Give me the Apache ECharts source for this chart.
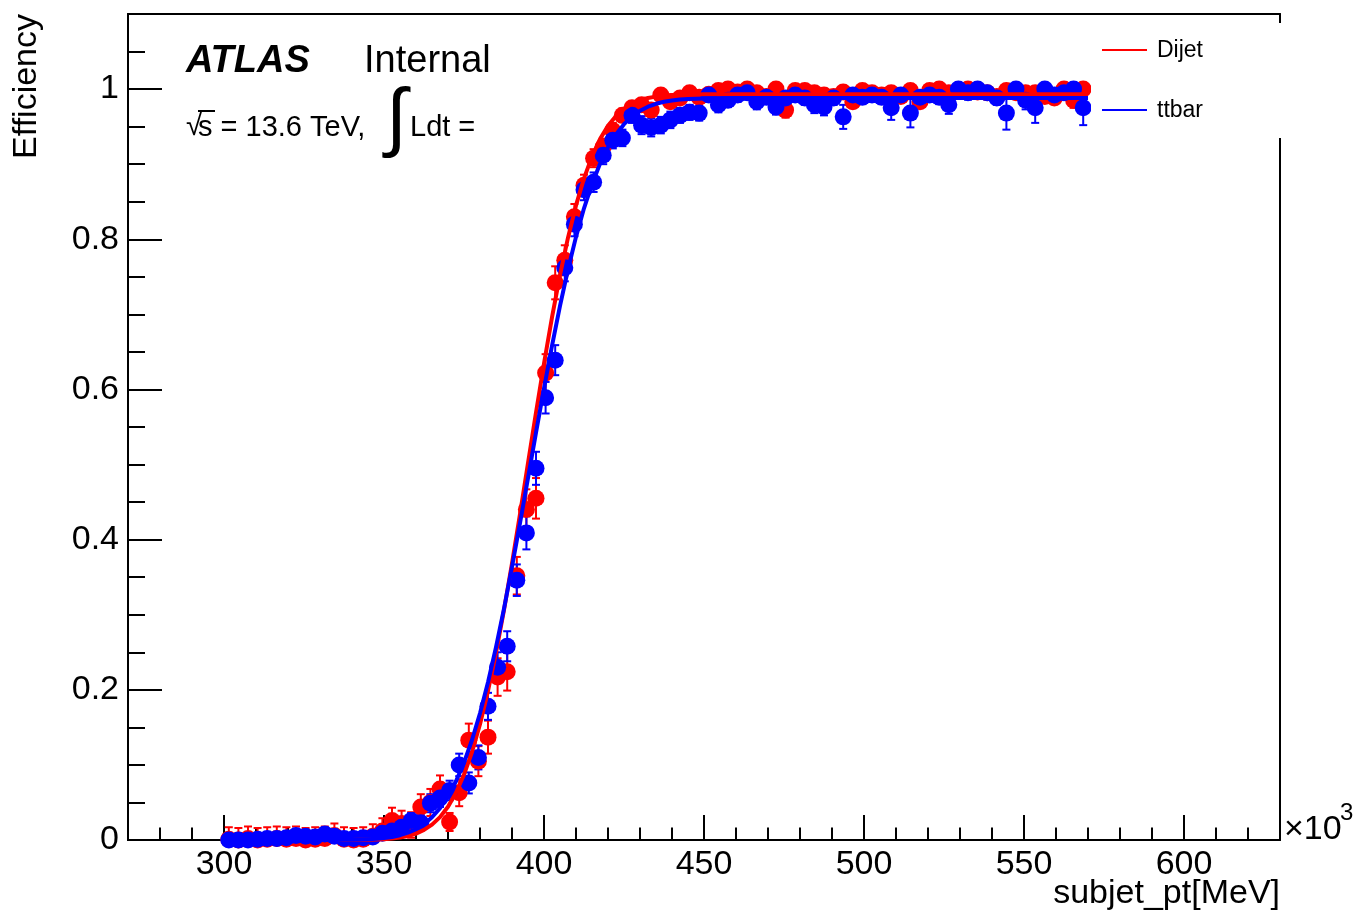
<!DOCTYPE html>
<html><head><meta charset="utf-8">
<script src="https://cdn.jsdelivr.net/npm/echarts@6/dist/echarts.min.js"></script>
<style>html,body{margin:0;padding:0;background:#fff}#c{width:1355px;height:914px}</style>
</head><body><div id="c"></div>
<script>
// bin centres (x 10^3 MeV)
const binCenters = [
 301.5,304.5,307.5,310.5,313.5,316.5,319.5,322.5,325.5,328.5,
 331.5,334.5,337.5,340.5,343.5,346.5,349.5,352.5,355.5,358.5,
 361.5,364.5,367.5,370.5,373.5,376.5,379.5,382.5,385.5,388.5,
 391.5,394.5,397.5,400.5,403.5,406.5,409.5,412.5,415.5,418.5,
 421.5,424.5,427.5,430.5,433.5,436.5,439.5,442.5,445.5,448.5,
 451.5,454.5,457.5,460.5,463.5,466.5,469.5,472.5,475.5,478.5,
 481.5,484.5,487.5,490.5,493.5,496.5,499.5,502.5,505.5,508.5,
 511.5,514.5,517.5,520.5,523.5,526.5,529.5,532.5,535.5,538.5,
 541.5,544.5,547.5,550.5,553.5,556.5,559.5,562.5,565.5,568.5];
const dijetEff = [
 0.001,0,0.002,0,0.001,0.002,0.001,0.002,0,0.001,
 0.002,0.006,0.001,0,0.001,0.005,0.012,0.026,0.022,0.02,
 0.044,0.05,0.068,0.024,0.063,0.133,0.105,0.137,0.217,0.224,
 0.352,0.44,0.455,0.622,0.742,0.772,0.83,0.872,0.908,0.923,
 0.945,0.965,0.975,0.979,0.972,0.992,0.983,0.988,0.995,0.989,
 0.993,0.998,1.0,0.996,1.0,0.995,0.99,1.0,0.972,0.998,
 0.998,0.995,0.992,0.99,0.996,0.983,0.998,0.995,0.992,0.995,
 0.99,0.998,0.983,0.998,1.0,0.995,0.997,1.0,0.996,0.995,
 0.99,0.998,0.995,0.995,0.995,0.99,0.988,1.0,0.985,1.0];
const ttbarEff = [
 0,0,0,0.001,0.002,0.002,0.003,0.006,0.005,0.004,
 0.008,0.005,0.002,0.002,0.003,0.004,0.009,0.012,0.017,0.026,
 0.023,0.049,0.056,0.066,0.1,0.076,0.11,0.178,0.23,0.258,
 0.346,0.409,0.495,0.589,0.639,0.762,0.82,0.866,0.876,0.912,
 0.932,0.935,0.965,0.952,0.949,0.952,0.959,0.965,0.969,0.968,
 0.992,0.979,0.985,0.992,0.995,0.983,0.989,0.976,0.988,0.992,
 0.988,0.979,0.976,0.988,0.963,0.992,0.989,0.992,0.989,0.975,
 0.992,0.968,0.989,0.992,0.989,0.979,1.0,0.995,1.0,0.995,
 0.988,0.968,1.0,0.985,0.975,1.0,0.992,0.995,1.0,0.975];
const dijetErr = [
 0.016,0.016,0.016,0.016,0.016,0.016,0.016,0.016,0.016,0.016,
 0.016,0.016,0.016,0.016,0.016,0.016,0.017,0.017,0.017,0.017,
 0.017,0.018,0.018,0.012,0.018,0.022,0.02,0.022,0.025,0.025,
 0.025,0.027,0.027,0.025,0.022,0.02,0.017,0.014,0.012,0.011,
 0.01,0.009,0.008,0.008,0.008,0.006,0.007,0.007,0.006,0.006,
 0.006,0.006,0.006,0.006,0.006,0.006,0.008,0.006,0.01,0.006,
 0.006,0.006,0.007,0.008,0.006,0.008,0.006,0.006,0.007,0.006,
 0.008,0.006,0.008,0.006,0.006,0.006,0.006,0.006,0.006,0.006,
 0.008,0.006,0.006,0.006,0.006,0.008,0.008,0.006,0.01,0.006];
const ttbarErr = [
 0.006,0.006,0.006,0.006,0.006,0.006,0.006,0.006,0.006,0.006,
 0.006,0.006,0.006,0.006,0.006,0.008,0.008,0.009,0.01,0.01,
 0.01,0.012,0.012,0.013,0.015,0.014,0.016,0.018,0.02,0.02,
 0.021,0.022,0.022,0.021,0.02,0.018,0.016,0.014,0.013,0.012,
 0.011,0.011,0.01,0.012,0.012,0.011,0.011,0.01,0.01,0.01,
 0.009,0.01,0.009,0.009,0.009,0.01,0.009,0.01,0.009,0.009,
 0.009,0.011,0.011,0.009,0.016,0.009,0.009,0.009,0.009,0.016,
 0.009,0.019,0.009,0.009,0.009,0.012,0.009,0.009,0.009,0.009,
 0.009,0.022,0.009,0.012,0.02,0.009,0.009,0.009,0.009,0.023];
// fit curves
const fitX = [300,330,335,337.5,340,342.5,345,347.5,350,352.5,355,357.5,360,362.5,365,367.5,370,372.5,375,377.5,
 380,382.5,385,387.5,390,392.5,395,397.5,400,402.5,405,407.5,410,412.5,415,417.5,420,422.5,425,427.5,
 430,432.5,435,437.5,440,442.5,445,447.5,450,455,460,570];
const dijetFit = [0,0,0,0,0.0001,0.0002,0.0003,0.0006,0.0011,0.0019,0.0032,0.0053,0.0085,0.0134,0.0205,0.0305,0.0444,0.063,0.087,0.1172,
 0.1542,0.1985,0.2493,0.3063,0.3685,0.4342,0.502,0.5693,0.6346,0.696,0.7524,0.8021,0.8451,0.8811,0.9104,0.9334,0.9511,0.9643,0.9738,0.9806,
 0.9851,0.9881,0.99,0.9913,0.992,0.9925,0.9927,0.9929,0.993,0.993,0.993,0.993];
const ttbarFit = [0,0,0.0001,0.0002,0.0003,0.0006,0.001,0.0016,0.0026,0.0041,0.0064,0.0098,0.0145,0.0211,0.0303,0.0424,0.0582,0.0782,0.103,0.1332,
 0.1688,0.21,0.2567,0.308,0.3636,0.4219,0.4818,0.5424,0.6014,0.658,0.7114,0.7598,0.8032,0.8413,0.8734,0.9006,0.9224,0.9396,0.9533,0.9635,
 0.9711,0.9765,0.9804,0.9831,0.9848,0.986,0.9868,0.9873,0.9876,0.9879,0.988,0.988];
// tick labels / tick positions
const xMajorTicks = [300,350,400,450,500,550,600];
const xMinorTicks = [280,290,310,320,330,340,360,370,380,390,410,420,430,440,460,470,480,490,510,520,530,540,560,570,580,590,610,620];
const yMajorTicks = [0,0.2,0.4,0.6,0.8,1];
const yMinorTicks = [0.05,0.1,0.15,0.25,0.3,0.35,0.45,0.5,0.55,0.65,0.7,0.75,0.85,0.9,0.95,1.05];

const FONT = "'Liberation Sans', Arial, Helvetica, sans-serif";
const RED = '#ff0000', BLUE = '#0000ff';

function errData(eff, err){
  return binCenters.map((x,i)=>[x, Math.max(0, eff[i]-err[i]), Math.min(1, eff[i]+err[i])]);
}
function errSeries(eff, err, color){
  return {
    type:'custom', data: errData(eff, err), encode:{x:0, y:[1,2]}, silent:true,
    renderItem(params, api){
      const x = api.value(0), lo = api.value(1), hi = api.value(2);
      const p1 = api.coord([x, lo]), p2 = api.coord([x, hi]);
      const cw = 4, st = {stroke: color, lineWidth: 2, fill:null};
      return {type:'group', children:[
        {type:'line', shape:{x1:p1[0],y1:p1[1],x2:p2[0],y2:p2[1]}, style:st},
        {type:'line', shape:{x1:p1[0]-cw,y1:p1[1],x2:p1[0]+cw,y2:p1[1]}, style:st},
        {type:'line', shape:{x1:p2[0]-cw,y1:p2[1],x2:p2[0]+cw,y2:p2[1]}, style:st}
      ]};
    }
  };
}
function ptSeries(eff, color){
  return {type:'scatter', data: binCenters.map((x,i)=>[x, eff[i]]), symbol:'circle', symbolSize:17,
    itemStyle:{color:color, opacity:1}, silent:true};
}
function fitSeries(name, vals, color){
  return {type:'line', name:name, data: fitX.map((x,i)=>[x, vals[i]]), smooth:false,
    showSymbol:false, lineStyle:{color:color, width:4, join:'round'}, silent:true};
}

function xAx(pos, ticks, len, labels){
  return {type:'value', min:270, max:630, position:pos, gridIndex:0,
    axisLine:{show:true, onZero:false, lineStyle:{color:'#000', width:2}},
    axisTick: ticks ? {show:true, inside:true, length:len, customValues:ticks, lineStyle:{color:'#000', width:2}} : {show:false},
    axisLabel: labels ? {show:true, customValues:labels, color:'#000', fontSize:34, fontFamily:FONT, margin:8} : {show:false},
    splitLine:{show:false}, minorTick:{show:false}};
}
function yAx(pos, ticks, len, labels){
  return {type:'value', min:0, max:1.1, position:pos, gridIndex:0,
    axisLine:{show:true, onZero:false, lineStyle:{color:'#000', width:2}},
    axisTick: ticks ? {show:true, inside:true, length:len, customValues:ticks, lineStyle:{color:'#000', width:2}} : {show:false},
    axisLabel: labels ? {show:true, customValues:labels, color:'#000', fontSize:34, fontFamily:FONT, margin:9,
       formatter:v=>String(Math.round(v*10)/10)} : {show:false},
    splitLine:{show:false}, minorTick:{show:false}};
}

const chart = echarts.init(document.getElementById('c'), null, {renderer:'canvas'});
chart.setOption({
  animation:false,
  backgroundColor:'#fff',
  grid:{left:128, right:75, top:14, bottom:74, containLabel:false},
  xAxis:[xAx('bottom', xMajorTicks, 25, xMajorTicks), xAx('bottom', xMinorTicks, 12.5, null),
         xAx('top', null, 0, null)],
  yAxis:[yAx('left', yMajorTicks, 34, yMajorTicks), yAx('left', yMinorTicks, 17, null),
         yAx('right', null, 0, null)],
  series:[
    errSeries(dijetEff, dijetErr, RED),
    ptSeries(dijetEff, RED),
    fitSeries('Dijet', dijetFit, RED),
    errSeries(ttbarEff, ttbarErr, BLUE),
    ptSeries(ttbarEff, BLUE),
    fitSeries('ttbar', ttbarFit, BLUE)
  ],
  graphic:[
    {type:'rect', z:100, shape:{x:1091, y:23, width:196, height:115}, style:{fill:'#fff'}},
    {type:'line', z:101, shape:{x1:1102,y1:50,x2:1147,y2:50}, style:{stroke:RED, lineWidth:2}},
    {type:'text', z:101, x:1157, y:51, style:{text:'Dijet', font:'23px '+FONT, fill:'#000', verticalAlign:'middle', align:'left'}},
    {type:'line', z:101, shape:{x1:1102,y1:110,x2:1147,y2:110}, style:{stroke:BLUE, lineWidth:2}},
    {type:'text', z:101, x:1157, y:111, style:{text:'ttbar', font:'23px '+FONT, fill:'#000', verticalAlign:'middle', align:'left'}},
    {type:'text', z:101, x:186, y:62, style:{text:'ATLAS', font:'italic bold 38px '+FONT, fill:'#000', verticalAlign:'middle'}},
    {type:'text', z:101, x:364, y:62, style:{text:'Internal', font:'38px '+FONT, fill:'#000', verticalAlign:'middle'}},
    {type:'text', z:101, x:186, y:127, style:{text:'√', font:'29px '+FONT, fill:'#000', verticalAlign:'middle'}},
    {type:'line', z:101, shape:{x1:198,y1:111,x2:215,y2:111}, style:{stroke:'#000', lineWidth:2}},
    {type:'text', z:101, x:198, y:128, style:{text:'s = 13.6 TeV,', font:'29px '+FONT, fill:'#000', verticalAlign:'middle'}},
    {type:'text', z:101, x:386, y:121, style:{text:'∫', font:'76px '+FONT, fill:'#000', verticalAlign:'middle'}},
    {type:'text', z:101, x:410, y:128, style:{text:'Ldt =', font:'29px '+FONT, fill:'#000', verticalAlign:'middle'}},
    {type:'text', z:101, x:27, y:14, rotation:Math.PI/2, style:{text:'Efficiency', font:'34px '+FONT, fill:'#000', verticalAlign:'middle', align:'right'}},
    {type:'text', z:101, x:1280, y:894, style:{text:'subjet_pt[MeV]', font:'34px '+FONT, fill:'#000', verticalAlign:'middle', align:'right'}},
    {type:'text', z:101, x:1284, y:830, style:{text:'×10', font:'34px '+FONT, fill:'#000', verticalAlign:'middle', align:'left'}},
    {type:'text', z:101, x:1340, y:813, style:{text:'3', font:'24px '+FONT, fill:'#000', verticalAlign:'middle', align:'left'}}
  ]
});
</script></body></html>
